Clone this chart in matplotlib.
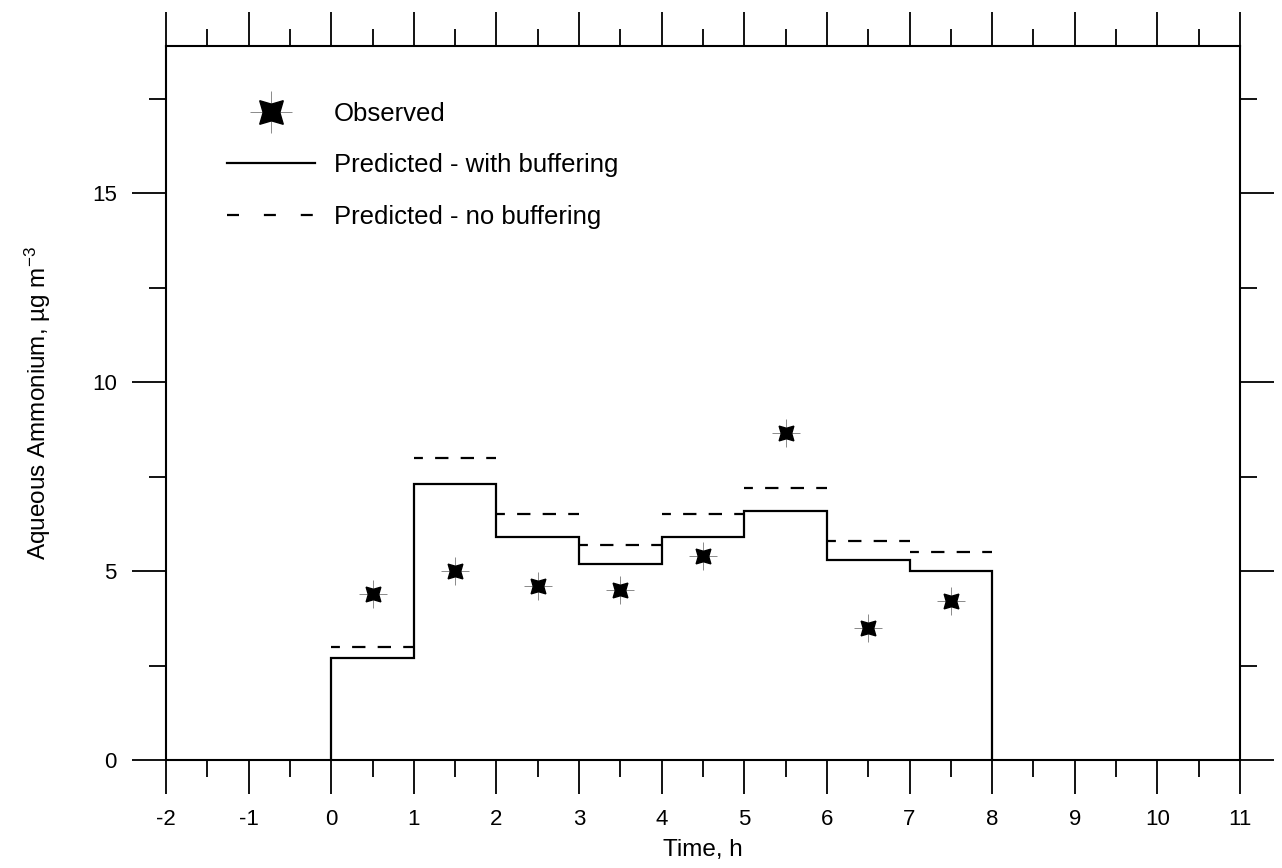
import numpy as np
import matplotlib.pyplot as plt
from matplotlib.lines import Line2D

plt.rcParams['font.family'] = ['Liberation Sans', 'DejaVu Sans']
plt.rcParams['mathtext.default'] = 'regular'
plt.rcParams['axes.unicode_minus'] = False

# hourly intervals (start of each hour)
hour_edges = [0, 1, 2, 3, 4, 5, 6, 7, 8]
with_buffering = [2.7, 7.3, 5.9, 5.2, 5.9, 6.6, 5.3, 5.0]
no_buffering = [3.0, 8.0, 6.5, 5.7, 6.5, 7.2, 5.8, 5.5]

obs_time = [0.5, 1.5, 2.5, 3.5, 4.5, 5.5, 6.5, 7.5]
observed = [4.4, 5.0, 4.6, 4.5, 5.4, 8.65, 3.5, 4.2]

fig = plt.figure(figsize=(12.82, 8.68), dpi=100)
ax = fig.add_axes([0.1295, 0.1244, 0.8377, 0.8226])

# solid step line, rising from zero at t=0 and dropping back at t=8
xs = [hour_edges[0]]
ys = [0]
for i, v in enumerate(with_buffering):
    xs += [hour_edges[i], hour_edges[i + 1]]
    ys += [v, v]
xs.append(hour_edges[-1])
ys.append(0)
ax.plot(xs, ys, color='black', lw=1.6, solid_joinstyle='miter')

# dashed levels, horizontal only
ax.hlines(no_buffering, hour_edges[:-1], hour_edges[1:], colors='black',
          linestyles=(2, (6, 5.5)), lw=1.6)

# observed: black diagonal star with thin cross
ax.plot(obs_time, observed, ls='none', marker='+', ms=20, mew=0.6, color='#777777')
ax.plot(obs_time, observed, ls='none', marker=(4, 1, 45), ms=15, color='black')

ax.set_xlim(-2, 11)
ax.set_ylim(0, 18.9)
ax.set_xticks(np.arange(-2, 12, 1))
ax.set_xticks(np.arange(-1.5, 11, 1), minor=True)
ax.set_yticks([0, 5, 10, 15])
ax.set_yticks([2.5, 7.5, 12.5, 17.5], minor=True)

for s in ax.spines.values():
    s.set_linewidth(1.5)
ax.tick_params(which='both', direction='out', top=True, right=True,
               labelsize=16, width=1.3)
ax.tick_params(which='major', length=24.5, pad=11)
ax.tick_params(which='minor', length=12)

ax.set_xlabel('Time, h', fontsize=17.5, labelpad=6)
ax.set_ylabel('Aqueous Ammonium, µg m$^{-3}$', fontsize=17.5, labelpad=28)

h_obs = (Line2D([], [], ls='none', marker='+', ms=30, mew=0.6, color='#777777'),
         Line2D([], [], ls='none', marker=(4, 1, 45), ms=24, color='black'))
h_with = Line2D([], [], color='black', lw=1.6)
h_no = Line2D([], [], color='black', lw=1.6, ls=(0, (5.4, 11.2)))
ax.legend([h_obs, h_with, h_no],
          ['Observed', 'Predicted - with buffering', 'Predicted - no buffering'],
          loc='upper left', bbox_to_anchor=(0.057, 0.922), frameon=False,
          fontsize=18.5, handlelength=3.4, handletextpad=0.75, labelspacing=1.08,
          borderpad=0, borderaxespad=0)

fig.savefig('out.png', dpi=100, facecolor='white')
